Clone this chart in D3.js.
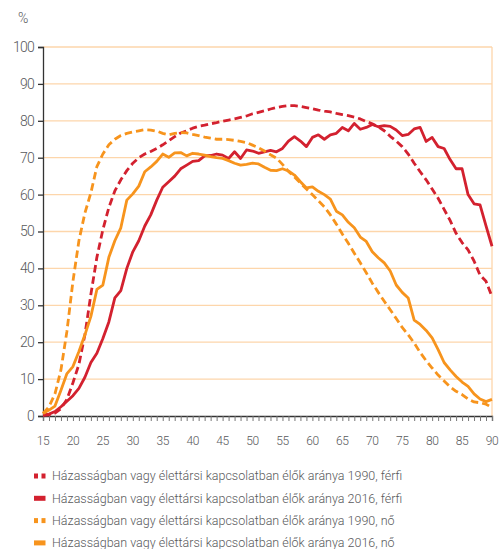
<!DOCTYPE html>
<meta charset="utf-8">
<style>
body { margin: 0; background: #fff; }
text { font-family: Roboto, "Noto Sans", sans-serif; font-weight: 300; fill: #58595b; }
</style>
<body>
<script src="https://d3js.org/d3.v7.min.js"></script>
<script>

// ages 15..90
const ages = d3.range(15, 91);

const male1990 = [0.2,0.3,0.8,2,4.5,9,14,22,33,43,50.5,56.5,61,64,66.5,68.5,70,71,71.7,72.5,
  73.5,74.6,75.7,76.7,77.3,78,78.5,78.8,79.2,79.5,79.9,80.2,80.5,80.9,81.3,81.9,82.3,82.7,83.2,83.6,
  83.9,84.1,84.1,83.9,83.6,83.3,82.9,82.6,82.4,82,81.7,81.4,81,80.5,79.8,79.2,78.4,77.3,75.8,74.5,
  73,71,68.5,66.2,64,61.5,59,56,53,49.5,47,45,42,38.2,36.5,32.3];

const male2016 = [0.3,0.5,1.2,2.5,4,5.5,7.5,10.5,14.5,17,21,25.5,32,34,40,44.5,47.5,51.5,54.5,58.5,
  62,63.5,65,67,68,69,69.2,70.5,70.6,71,70.7,69.8,71.6,69.8,72.1,71.8,71.2,71.6,72,71.6,
  72.5,74.5,75.7,74.5,73,75.5,76.2,75,76.2,76.6,78.2,77.3,79.3,77.7,78.2,79,78.4,78.7,78.5,77.5,
  76,76.3,77.8,78.2,74.4,75.5,73,72.5,69.5,67,67,60,57.5,57.2,51.5,46];

const female1990 = [0.7,2.5,6,12.5,23,36.5,47.5,55,60.5,67.6,71,73.5,75,76,76.6,77,77.3,77.6,77.5,77.2,
  76.6,76.2,76.6,76.8,76.7,76.3,76,75.6,75.3,75,75,74.9,74.7,74.4,74.1,73.4,72.7,71.8,70.8,69.9,
  68.2,66.3,64.8,63.1,61.5,60,58.3,56.7,54.5,52,49.3,46.8,44.1,41.5,38.8,36,33.5,31.1,28.8,26.4,
  24,22,19.8,17.2,15,13,11.1,9.5,7.9,6.7,5.8,4.6,3.8,3.6,3.2,2.3];

const female2016 = [0.7,1.6,2.7,7,11.5,13.4,17.5,22,27,34.3,35.5,43,47.5,51,58.5,60.2,62.3,66.2,67.5,69,
  71,70.1,71.3,71.4,70.5,71.2,71,70.7,70.3,70,69.8,69.2,68.5,68,68.2,68.5,68.3,67.4,66.6,66.5,
  67,66.4,65.3,63.5,61.8,62.1,60.9,60,58.8,55.5,54.5,52.5,51,48.5,47.3,44.5,42.9,41.5,39.3,35.5,
  33.5,32,26,24.8,23.2,21.2,18,14.5,12.5,10.7,9.2,8,6,4.6,3.9,4.5];

const xTicks = d3.range(15, 91, 5);
const yTicks = d3.range(0, 101, 10);

const labels = [
  "Házasságban vagy élettársi kapcsolatban élők aránya 1990, férfi",
  "Házasságban vagy élettársi kapcsolatban élők aránya 2016, férfi",
  "Házasságban vagy élettársi kapcsolatban élők aránya 1990, nő",
  "Házasságban vagy élettársi kapcsolatban élők aránya 2016, nő"
];

const red = "#d3212f", orange = "#f7941d";

const series = [
  {values: male1990, color: red, dashed: true},
  {values: male2016, color: red, dashed: false},
  {values: female1990, color: orange, dashed: true},
  {values: female2016, color: orange, dashed: false}
];

const width = 504, height = 549;
const plotLeft = 43, plotRight = 492, plotTop = 47, plotBottom = 416;

let svg = d3.select("body").append("svg")
    .attr("width", width)
    .attr("height", height);

let x = d3.scaleLinear().domain([15, 90]).range([plotLeft, plotRight]);
let y = d3.scaleLinear().domain([0, 100]).range([plotBottom, plotTop]);

// gridlines
svg.append("g").selectAll("line")
    .data(yTicks.filter(d => d > 0))
  .enter().append("line")
    .attr("x1", plotLeft).attr("x2", plotRight)
    .attr("y1", d => y(d)).attr("y2", d => y(d))
    .style("stroke", "#fdd6ab")
    .style("stroke-width", 1.3);

svg.append("line")
    .attr("x1", plotRight).attr("x2", plotRight)
    .attr("y1", plotTop).attr("y2", plotBottom)
    .style("stroke", "#fdd6ab")
    .style("stroke-width", 1.3);

// y axis
let yAxis = svg.append("g")
    .attr("transform", "translate(" + plotLeft + ",0)")
    .call(d3.axisLeft(y).tickValues(yTicks).tickSize(5).tickPadding(4));
yAxis.select(".domain").style("stroke", "#333").style("stroke-width", 1.3);
yAxis.selectAll(".tick line").style("stroke", "#333").style("stroke-width", 1.3);
yAxis.selectAll("text")
    .attr("font-family", null).attr("font-size", null).attr("fill", null)
    .style("font-size", "14px")
    .style("letter-spacing", "-0.8px");

svg.append("text")
    .attr("x", 18).attr("y", 23)
    .style("font-size", "14px")
    .text("%");

// x axis: minor ticks every year, labels every 5
let xAxis = svg.append("g")
    .attr("transform", "translate(0," + plotBottom + ")")
    .call(d3.axisBottom(x).tickValues(ages).tickSize(5).tickFormat(""));
xAxis.select(".domain").style("stroke", "#333").style("stroke-width", 1.3);
xAxis.selectAll(".tick line").style("stroke", "#777").style("stroke-width", 1);

svg.append("g").selectAll("text")
    .data(xTicks)
  .enter().append("text")
    .attr("x", d => x(d))
    .attr("y", 445)
    .attr("text-anchor", "middle")
    .style("font-size", "12px")
    .style("letter-spacing", "-0.4px")
    .text(d => d);

// lines
let line = d3.line()
    .x((d, i) => x(ages[i]))
    .y(d => y(d));

svg.append("g").selectAll("path")
    .data(series)
  .enter().append("path")
    .attr("d", d => line(d.values))
    .style("fill", "none")
    .style("stroke", d => d.color)
    .style("stroke-width", 2.8)
    .style("stroke-linejoin", "round")
    .style("stroke-dasharray", d => d.dashed ? "7.5,4" : null);

// legend
let legend = svg.append("g").selectAll("g")
    .data(series)
  .enter().append("g")
    .attr("transform", (d, i) => "translate(0," + (476 + i * 22.3) + ")");

legend.filter(d => d.dashed).selectAll("rect")
    .data(d => [{c: d.color, x: 34}, {c: d.color, x: 41.5}])
  .enter().append("rect")
    .attr("x", d => d.x).attr("y", -2.5)
    .attr("width", 4).attr("height", 5)
    .style("fill", d => d.c);

legend.filter(d => !d.dashed).append("rect")
    .attr("x", 34).attr("y", -2.5)
    .attr("width", 11.5).attr("height", 5)
    .style("fill", d => d.color);

legend.append("text")
    .attr("x", 52)
    .attr("dy", "0.35em")
    .style("font-size", "12.5px")
    .text((d, i) => labels[i]);

</script>
